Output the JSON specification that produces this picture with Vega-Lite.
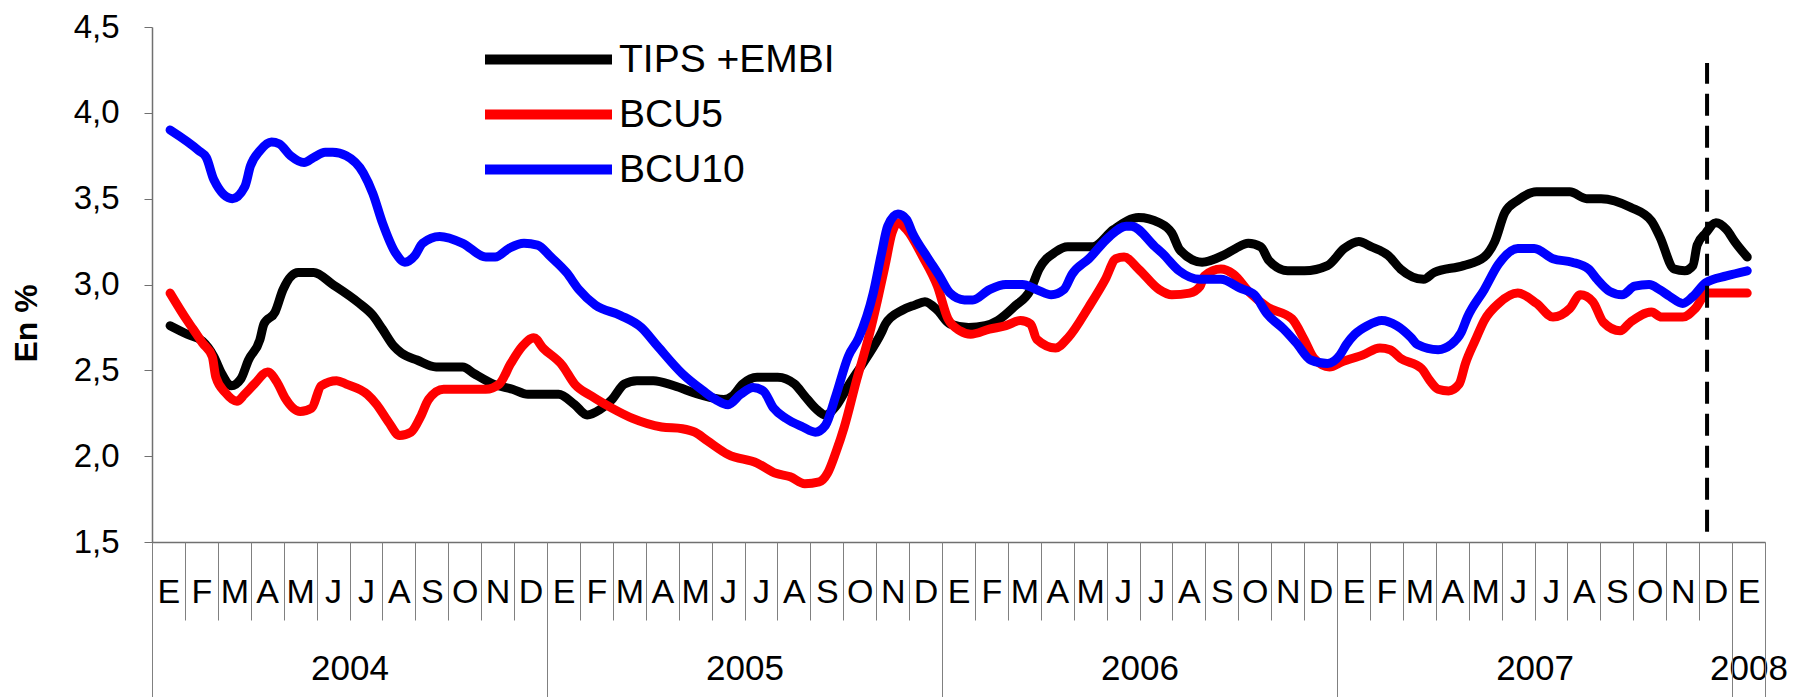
{
"$schema":"https://vega.github.io/schema/vega-lite/v6.json",
"width":1613,"height":515,
"autosize":{"type":"none"},
"padding":{"left":152,"top":27,"right":40,"bottom":155},
"background":"white",
"config":{"view":{"stroke":null},"font":"Liberation Sans","axis":{"labelFont":"Liberation Sans","titleFont":"Liberation Sans","labelColor":"#000000","titleColor":"#000000","grid":false},"legend":{"labelFont":"Liberation Sans"}},
"datasets":{
"marker":[{"m":47.24,"lo":1.56,"hi":4.29}],
"series":[
{"s":"TIPS +EMBI","m":0.55,"v":2.76},{"s":"TIPS +EMBI","m":1.07,"v":2.71},{"s":"TIPS +EMBI","m":1.53,"v":2.67},{"s":"TIPS +EMBI","m":1.88,"v":2.58},{"s":"TIPS +EMBI","m":2.12,"v":2.48},{"s":"TIPS +EMBI","m":2.41,"v":2.41},{"s":"TIPS +EMBI","m":2.7,"v":2.45},{"s":"TIPS +EMBI","m":2.93,"v":2.56},{"s":"TIPS +EMBI","m":3.28,"v":2.68},{"s":"TIPS +EMBI","m":3.4,"v":2.77},{"s":"TIPS +EMBI","m":3.74,"v":2.84},{"s":"TIPS +EMBI","m":3.98,"v":2.97},{"s":"TIPS +EMBI","m":4.44,"v":3.07},{"s":"TIPS +EMBI","m":4.91,"v":3.07},{"s":"TIPS +EMBI","m":5.49,"v":3.0},{"s":"TIPS +EMBI","m":6.3,"v":2.89},{"s":"TIPS +EMBI","m":6.71,"v":2.82},{"s":"TIPS +EMBI","m":7.0,"v":2.74},{"s":"TIPS +EMBI","m":7.35,"v":2.64},{"s":"TIPS +EMBI","m":7.58,"v":2.6},{"s":"TIPS +EMBI","m":8.05,"v":2.56},{"s":"TIPS +EMBI","m":8.63,"v":2.52},{"s":"TIPS +EMBI","m":9.44,"v":2.52},{"s":"TIPS +EMBI","m":9.79,"v":2.48},{"s":"TIPS +EMBI","m":10.37,"v":2.42},{"s":"TIPS +EMBI","m":10.95,"v":2.39},{"s":"TIPS +EMBI","m":11.42,"v":2.36},{"s":"TIPS +EMBI","m":12.35,"v":2.36},{"s":"TIPS +EMBI","m":12.84,"v":2.3},{"s":"TIPS +EMBI","m":13.22,"v":2.24},{"s":"TIPS +EMBI","m":13.6,"v":2.27},{"s":"TIPS +EMBI","m":13.97,"v":2.33},{"s":"TIPS +EMBI","m":14.35,"v":2.42},{"s":"TIPS +EMBI","m":14.73,"v":2.44},{"s":"TIPS +EMBI","m":15.23,"v":2.44},{"s":"TIPS +EMBI","m":15.86,"v":2.41},{"s":"TIPS +EMBI","m":16.62,"v":2.36},{"s":"TIPS +EMBI","m":17.37,"v":2.33},{"s":"TIPS +EMBI","m":17.63,"v":2.35},{"s":"TIPS +EMBI","m":17.94,"v":2.42},{"s":"TIPS +EMBI","m":18.38,"v":2.46},{"s":"TIPS +EMBI","m":19.01,"v":2.46},{"s":"TIPS +EMBI","m":19.52,"v":2.42},{"s":"TIPS +EMBI","m":19.83,"v":2.35},{"s":"TIPS +EMBI","m":20.15,"v":2.28},{"s":"TIPS +EMBI","m":20.46,"v":2.24},{"s":"TIPS +EMBI","m":20.77,"v":2.29},{"s":"TIPS +EMBI","m":21.15,"v":2.41},{"s":"TIPS +EMBI","m":21.66,"v":2.56},{"s":"TIPS +EMBI","m":22.16,"v":2.72},{"s":"TIPS +EMBI","m":22.28,"v":2.77},{"s":"TIPS +EMBI","m":22.79,"v":2.85},{"s":"TIPS +EMBI","m":23.17,"v":2.88},{"s":"TIPS +EMBI","m":23.48,"v":2.9},{"s":"TIPS +EMBI","m":23.86,"v":2.85},{"s":"TIPS +EMBI","m":24.24,"v":2.77},{"s":"TIPS +EMBI","m":24.81,"v":2.75},{"s":"TIPS +EMBI","m":25.31,"v":2.76},{"s":"TIPS +EMBI","m":25.69,"v":2.79},{"s":"TIPS +EMBI","m":26.19,"v":2.87},{"s":"TIPS +EMBI","m":26.69,"v":2.97},{"s":"TIPS +EMBI","m":26.95,"v":3.09},{"s":"TIPS +EMBI","m":27.45,"v":3.19},{"s":"TIPS +EMBI","m":27.82,"v":3.22},{"s":"TIPS +EMBI","m":28.58,"v":3.22},{"s":"TIPS +EMBI","m":29.21,"v":3.32},{"s":"TIPS +EMBI","m":29.97,"v":3.39},{"s":"TIPS +EMBI","m":30.6,"v":3.36},{"s":"TIPS +EMBI","m":30.98,"v":3.3},{"s":"TIPS +EMBI","m":31.23,"v":3.2},{"s":"TIPS +EMBI","m":31.9,"v":3.13},{"s":"TIPS +EMBI","m":32.54,"v":3.17},{"s":"TIPS +EMBI","m":32.92,"v":3.21},{"s":"TIPS +EMBI","m":33.3,"v":3.24},{"s":"TIPS +EMBI","m":33.68,"v":3.22},{"s":"TIPS +EMBI","m":33.93,"v":3.14},{"s":"TIPS +EMBI","m":34.5,"v":3.08},{"s":"TIPS +EMBI","m":35.01,"v":3.08},{"s":"TIPS +EMBI","m":35.71,"v":3.11},{"s":"TIPS +EMBI","m":36.22,"v":3.21},{"s":"TIPS +EMBI","m":36.66,"v":3.25},{"s":"TIPS +EMBI","m":37.04,"v":3.22},{"s":"TIPS +EMBI","m":37.55,"v":3.17},{"s":"TIPS +EMBI","m":37.93,"v":3.09},{"s":"TIPS +EMBI","m":38.63,"v":3.03},{"s":"TIPS +EMBI","m":38.95,"v":3.07},{"s":"TIPS +EMBI","m":39.84,"v":3.11},{"s":"TIPS +EMBI","m":40.47,"v":3.16},{"s":"TIPS +EMBI","m":40.79,"v":3.25},{"s":"TIPS +EMBI","m":41.1,"v":3.42},{"s":"TIPS +EMBI","m":41.49,"v":3.49},{"s":"TIPS +EMBI","m":42.06,"v":3.54},{"s":"TIPS +EMBI","m":43.07,"v":3.54},{"s":"TIPS +EMBI","m":43.58,"v":3.5},{"s":"TIPS +EMBI","m":44.02,"v":3.5},{"s":"TIPS +EMBI","m":44.91,"v":3.45},{"s":"TIPS +EMBI","m":45.55,"v":3.37},{"s":"TIPS +EMBI","m":45.8,"v":3.28},{"s":"TIPS +EMBI","m":46.24,"v":3.09},{"s":"TIPS +EMBI","m":46.56,"v":3.08},{"s":"TIPS +EMBI","m":46.81,"v":3.11},{"s":"TIPS +EMBI","m":46.94,"v":3.23},{"s":"TIPS +EMBI","m":47.2,"v":3.3},{"s":"TIPS +EMBI","m":47.51,"v":3.36},{"s":"TIPS +EMBI","m":47.83,"v":3.32},{"s":"TIPS +EMBI","m":48.08,"v":3.25},{"s":"TIPS +EMBI","m":48.46,"v":3.16},
{"s":"BCU5","m":0.55,"v":2.95},{"s":"BCU5","m":1.07,"v":2.79},{"s":"BCU5","m":1.25,"v":2.74},{"s":"BCU5","m":1.53,"v":2.66},{"s":"BCU5","m":1.83,"v":2.58},{"s":"BCU5","m":1.94,"v":2.46},{"s":"BCU5","m":2.23,"v":2.37},{"s":"BCU5","m":2.58,"v":2.32},{"s":"BCU5","m":2.81,"v":2.36},{"s":"BCU5","m":3.11,"v":2.42},{"s":"BCU5","m":3.51,"v":2.49},{"s":"BCU5","m":3.8,"v":2.43},{"s":"BCU5","m":4.04,"v":2.34},{"s":"BCU5","m":4.5,"v":2.26},{"s":"BCU5","m":4.85,"v":2.28},{"s":"BCU5","m":5.14,"v":2.41},{"s":"BCU5","m":5.61,"v":2.44},{"s":"BCU5","m":5.9,"v":2.42},{"s":"BCU5","m":6.54,"v":2.36},{"s":"BCU5","m":6.83,"v":2.3},{"s":"BCU5","m":7.18,"v":2.2},{"s":"BCU5","m":7.52,"v":2.12},{"s":"BCU5","m":7.87,"v":2.14},{"s":"BCU5","m":8.16,"v":2.23},{"s":"BCU5","m":8.4,"v":2.33},{"s":"BCU5","m":8.86,"v":2.39},{"s":"BCU5","m":10.14,"v":2.39},{"s":"BCU5","m":10.55,"v":2.42},{"s":"BCU5","m":10.9,"v":2.54},{"s":"BCU5","m":11.25,"v":2.64},{"s":"BCU5","m":11.6,"v":2.69},{"s":"BCU5","m":11.88,"v":2.63},{"s":"BCU5","m":12.46,"v":2.53},{"s":"BCU5","m":12.84,"v":2.42},{"s":"BCU5","m":13.35,"v":2.35},{"s":"BCU5","m":13.97,"v":2.28},{"s":"BCU5","m":14.6,"v":2.22},{"s":"BCU5","m":15.48,"v":2.17},{"s":"BCU5","m":16.11,"v":2.16},{"s":"BCU5","m":16.49,"v":2.14},{"s":"BCU5","m":16.87,"v":2.09},{"s":"BCU5","m":17.5,"v":2.01},{"s":"BCU5","m":18.38,"v":1.96},{"s":"BCU5","m":18.95,"v":1.9},{"s":"BCU5","m":19.39,"v":1.88},{"s":"BCU5","m":19.83,"v":1.84},{"s":"BCU5","m":20.27,"v":1.85},{"s":"BCU5","m":20.52,"v":1.9},{"s":"BCU5","m":20.77,"v":2.02},{"s":"BCU5","m":21.03,"v":2.17},{"s":"BCU5","m":21.4,"v":2.44},{"s":"BCU5","m":21.78,"v":2.7},{"s":"BCU5","m":22.04,"v":2.91},{"s":"BCU5","m":22.28,"v":3.12},{"s":"BCU5","m":22.48,"v":3.3},{"s":"BCU5","m":22.66,"v":3.36},{"s":"BCU5","m":22.92,"v":3.32},{"s":"BCU5","m":23.42,"v":3.16},{"s":"BCU5","m":23.86,"v":2.99},{"s":"BCU5","m":24.18,"v":2.8},{"s":"BCU5","m":24.55,"v":2.73},{"s":"BCU5","m":24.87,"v":2.71},{"s":"BCU5","m":25.44,"v":2.74},{"s":"BCU5","m":25.94,"v":2.76},{"s":"BCU5","m":26.38,"v":2.79},{"s":"BCU5","m":26.69,"v":2.77},{"s":"BCU5","m":26.88,"v":2.68},{"s":"BCU5","m":27.45,"v":2.63},{"s":"BCU5","m":27.83,"v":2.69},{"s":"BCU5","m":28.46,"v":2.87},{"s":"BCU5","m":28.96,"v":3.03},{"s":"BCU5","m":29.28,"v":3.15},{"s":"BCU5","m":29.53,"v":3.16},{"s":"BCU5","m":29.97,"v":3.09},{"s":"BCU5","m":30.6,"v":2.97},{"s":"BCU5","m":30.98,"v":2.94},{"s":"BCU5","m":31.52,"v":2.95},{"s":"BCU5","m":31.84,"v":2.99},{"s":"BCU5","m":31.97,"v":3.05},{"s":"BCU5","m":32.47,"v":3.09},{"s":"BCU5","m":32.85,"v":3.06},{"s":"BCU5","m":33.36,"v":2.95},{"s":"BCU5","m":33.87,"v":2.87},{"s":"BCU5","m":34.63,"v":2.8},{"s":"BCU5","m":35.0,"v":2.68},{"s":"BCU5","m":35.3,"v":2.57},{"s":"BCU5","m":35.77,"v":2.52},{"s":"BCU5","m":36.15,"v":2.55},{"s":"BCU5","m":36.79,"v":2.59},{"s":"BCU5","m":37.3,"v":2.63},{"s":"BCU5","m":37.61,"v":2.62},{"s":"BCU5","m":37.93,"v":2.57},{"s":"BCU5","m":38.57,"v":2.51},{"s":"BCU5","m":38.82,"v":2.44},{"s":"BCU5","m":39.07,"v":2.39},{"s":"BCU5","m":39.39,"v":2.38},{"s":"BCU5","m":39.71,"v":2.42},{"s":"BCU5","m":39.9,"v":2.54},{"s":"BCU5","m":40.21,"v":2.68},{"s":"BCU5","m":40.47,"v":2.79},{"s":"BCU5","m":40.91,"v":2.89},{"s":"BCU5","m":41.49,"v":2.95},{"s":"BCU5","m":42.06,"v":2.89},{"s":"BCU5","m":42.56,"v":2.81},{"s":"BCU5","m":43.07,"v":2.86},{"s":"BCU5","m":43.39,"v":2.94},{"s":"BCU5","m":43.77,"v":2.9},{"s":"BCU5","m":44.09,"v":2.78},{"s":"BCU5","m":44.6,"v":2.73},{"s":"BCU5","m":44.91,"v":2.78},{"s":"BCU5","m":45.55,"v":2.84},{"s":"BCU5","m":45.86,"v":2.81},{"s":"BCU5","m":46.5,"v":2.81},{"s":"BCU5","m":46.88,"v":2.86},{"s":"BCU5","m":47.24,"v":2.95},{"s":"BCU5","m":47.83,"v":2.95},{"s":"BCU5","m":48.46,"v":2.95},
{"s":"BCU10","m":0.55,"v":3.9},{"s":"BCU10","m":1.42,"v":3.78},{"s":"BCU10","m":1.65,"v":3.74},{"s":"BCU10","m":1.88,"v":3.61},{"s":"BCU10","m":2.44,"v":3.5},{"s":"BCU10","m":2.82,"v":3.57},{"s":"BCU10","m":2.99,"v":3.69},{"s":"BCU10","m":3.28,"v":3.78},{"s":"BCU10","m":3.63,"v":3.83},{"s":"BCU10","m":3.86,"v":3.82},{"s":"BCU10","m":4.21,"v":3.75},{"s":"BCU10","m":4.62,"v":3.71},{"s":"BCU10","m":4.91,"v":3.74},{"s":"BCU10","m":5.26,"v":3.77},{"s":"BCU10","m":5.49,"v":3.77},{"s":"BCU10","m":5.9,"v":3.75},{"s":"BCU10","m":6.42,"v":3.65},{"s":"BCU10","m":6.71,"v":3.53},{"s":"BCU10","m":7.0,"v":3.36},{"s":"BCU10","m":7.41,"v":3.18},{"s":"BCU10","m":7.68,"v":3.13},{"s":"BCU10","m":7.99,"v":3.17},{"s":"BCU10","m":8.22,"v":3.24},{"s":"BCU10","m":8.74,"v":3.28},{"s":"BCU10","m":9.44,"v":3.24},{"s":"BCU10","m":10.14,"v":3.16},{"s":"BCU10","m":10.43,"v":3.16},{"s":"BCU10","m":10.84,"v":3.21},{"s":"BCU10","m":11.3,"v":3.24},{"s":"BCU10","m":11.71,"v":3.23},{"s":"BCU10","m":12.12,"v":3.16},{"s":"BCU10","m":12.59,"v":3.07},{"s":"BCU10","m":12.97,"v":2.97},{"s":"BCU10","m":13.47,"v":2.88},{"s":"BCU10","m":14.23,"v":2.82},{"s":"BCU10","m":14.86,"v":2.75},{"s":"BCU10","m":15.36,"v":2.64},{"s":"BCU10","m":16.11,"v":2.48},{"s":"BCU10","m":16.75,"v":2.38},{"s":"BCU10","m":17.12,"v":2.33},{"s":"BCU10","m":17.5,"v":2.3},{"s":"BCU10","m":17.88,"v":2.36},{"s":"BCU10","m":18.26,"v":2.4},{"s":"BCU10","m":18.57,"v":2.38},{"s":"BCU10","m":18.88,"v":2.28},{"s":"BCU10","m":19.26,"v":2.22},{"s":"BCU10","m":19.77,"v":2.17},{"s":"BCU10","m":20.15,"v":2.14},{"s":"BCU10","m":20.46,"v":2.18},{"s":"BCU10","m":20.77,"v":2.35},{"s":"BCU10","m":21.15,"v":2.58},{"s":"BCU10","m":21.47,"v":2.69},{"s":"BCU10","m":21.91,"v":2.95},{"s":"BCU10","m":22.16,"v":3.18},{"s":"BCU10","m":22.35,"v":3.34},{"s":"BCU10","m":22.66,"v":3.41},{"s":"BCU10","m":22.92,"v":3.38},{"s":"BCU10","m":23.1,"v":3.3},{"s":"BCU10","m":23.55,"v":3.16},{"s":"BCU10","m":23.92,"v":3.05},{"s":"BCU10","m":24.24,"v":2.95},{"s":"BCU10","m":24.68,"v":2.91},{"s":"BCU10","m":24.93,"v":2.91},{"s":"BCU10","m":25.44,"v":2.97},{"s":"BCU10","m":25.94,"v":3.0},{"s":"BCU10","m":26.44,"v":3.0},{"s":"BCU10","m":26.88,"v":2.97},{"s":"BCU10","m":27.32,"v":2.94},{"s":"BCU10","m":27.7,"v":2.97},{"s":"BCU10","m":27.95,"v":3.06},{"s":"BCU10","m":28.46,"v":3.15},{"s":"BCU10","m":29.09,"v":3.28},{"s":"BCU10","m":29.59,"v":3.34},{"s":"BCU10","m":29.75,"v":3.34},{"s":"BCU10","m":30.47,"v":3.22},{"s":"BCU10","m":30.7,"v":3.18},{"s":"BCU10","m":31.2,"v":3.08},{"s":"BCU10","m":31.84,"v":3.03},{"s":"BCU10","m":32.47,"v":3.03},{"s":"BCU10","m":33.04,"v":2.98},{"s":"BCU10","m":33.49,"v":2.94},{"s":"BCU10","m":33.87,"v":2.83},{"s":"BCU10","m":34.38,"v":2.74},{"s":"BCU10","m":34.76,"v":2.66},{"s":"BCU10","m":35.2,"v":2.56},{"s":"BCU10","m":35.71,"v":2.54},{"s":"BCU10","m":36.09,"v":2.59},{"s":"BCU10","m":36.28,"v":2.65},{"s":"BCU10","m":36.54,"v":2.71},{"s":"BCU10","m":36.92,"v":2.76},{"s":"BCU10","m":37.36,"v":2.79},{"s":"BCU10","m":37.81,"v":2.76},{"s":"BCU10","m":38.25,"v":2.69},{"s":"BCU10","m":38.44,"v":2.65},{"s":"BCU10","m":39.07,"v":2.62},{"s":"BCU10","m":39.46,"v":2.65},{"s":"BCU10","m":39.77,"v":2.72},{"s":"BCU10","m":39.96,"v":2.81},{"s":"BCU10","m":40.47,"v":2.97},{"s":"BCU10","m":40.91,"v":3.12},{"s":"BCU10","m":41.49,"v":3.21},{"s":"BCU10","m":41.99,"v":3.21},{"s":"BCU10","m":42.56,"v":3.15},{"s":"BCU10","m":43.14,"v":3.13},{"s":"BCU10","m":43.64,"v":3.09},{"s":"BCU10","m":43.9,"v":3.03},{"s":"BCU10","m":44.28,"v":2.96},{"s":"BCU10","m":44.66,"v":2.94},{"s":"BCU10","m":45.04,"v":2.99},{"s":"BCU10","m":45.48,"v":3.0},{"s":"BCU10","m":45.8,"v":2.97},{"s":"BCU10","m":46.11,"v":2.93},{"s":"BCU10","m":46.5,"v":2.89},{"s":"BCU10","m":46.81,"v":2.93},{"s":"BCU10","m":47.2,"v":3.01},{"s":"BCU10","m":47.83,"v":3.05},{"s":"BCU10","m":48.46,"v":3.08}
]},
"resolve":{"axis":{"x":"independent","y":"independent"}},
"layer":[
{"data":{"name":"series"},
 "mark":{"type":"line","strokeWidth":9,"interpolate":"monotone","strokeCap":"round","strokeJoin":"round"},
 "encoding":{
  "x":{"field":"m","type":"quantitative","scale":{"domain":[0,49],"nice":false,"zero":false},
   "axis":{"orient":"bottom","title":null,"values":[0.5,1.5,2.5,3.5,4.5,5.5,6.5,7.5,8.5,9.5,10.5,11.5,12.5,13.5,14.5,15.5,16.5,17.5,18.5,19.5,20.5,21.5,22.5,23.5,24.5,25.5,26.5,27.5,28.5,29.5,30.5,31.5,32.5,33.5,34.5,35.5,36.5,37.5,38.5,39.5,40.5,41.5,42.5,43.5,44.5,45.5,46.5,47.5,48.5],
    "labelExpr":"['E','F','M','A','M','J','J','A','S','O','N','D'][floor(datum.value) % 12]",
    "ticks":false,"domain":true,"domainColor":"#707070","domainWidth":1.5,"labelFontSize":34,"labelPadding":60,"labelBaseline":"alphabetic","labelOverlap":false,"labelFlush":false,"labelBound":false}},
  "y":{"field":"v","type":"quantitative","scale":{"domain":[1.5,4.5],"nice":false,"zero":false},
   "axis":{"values":[1.5,2,2.5,3,3.5,4,4.5],"labelExpr":"replace(format(datum.value,'.1f'),'.',',')","tickSize":8,"tickColor":"#707070","domainColor":"#707070","domainWidth":1.5,"labelFontSize":33,"labelPadding":25,"labelOverlap":false,"labelFlush":false,
    "title":"En %","titleFontSize":32,"titleFontWeight":"bold","titleAngle":-90,"titleAlign":"center","titleBaseline":"middle","titleX":-126,"titleY":296}},
  "color":{"field":"s","type":"nominal","scale":{"domain":["TIPS +EMBI","BCU5","BCU10"],"range":["#000000","#ff0000","#0000ff"]},
   "legend":{"orient":"none","legendX":328,"legendY":5,"title":null,"padding":0,"symbolType":"stroke","symbolSize":16129,"symbolStrokeWidth":10,"labelFontSize":39,"labelLimit":500,"labelColor":"#000000","clipHeight":55,"rowPadding":0,"labelOffset":2}}
 }},
{"data":{"name":"marker"},
 "mark":{"type":"rule","strokeDash":[22,10],"strokeWidth":4,"color":"#000000"},
 "encoding":{
  "x":{"field":"m","type":"quantitative","scale":{"domain":[0,49],"nice":false,"zero":false},
   "axis":{"orient":"bottom","title":null,"values":[0,1,2,3,4,5,6,7,8,9,10,11,12,13,14,15,16,17,18,19,20,21,22,23,24,25,26,27,28,29,30,31,32,33,34,35,36,37,38,39,40,41,42,43,44,45,46,47,48,49],"labels":false,"domain":false,"ticks":true,"tickSize":78,"tickColor":"#808080","tickWidth":1}},
  "y":{"field":"lo","type":"quantitative","axis":null},
  "y2":{"field":"hi"}
 }},
{"data":{"name":"marker"},
 "mark":{"type":"rule","opacity":0},
 "encoding":{
  "x":{"field":"m","type":"quantitative","scale":{"domain":[0,49],"nice":false,"zero":false},
   "axis":{"orient":"bottom","title":null,"values":[6,18,30,42,48.5],"labelExpr":"datum.value < 12 ? '2004' : datum.value < 24 ? '2005' : datum.value < 36 ? '2006' : datum.value < 48 ? '2007' : '2008'","ticks":false,"domain":false,"labelFontSize":35,"labelPadding":137,"labelBaseline":"alphabetic","labelOverlap":false,"labelFlush":false,"labelBound":false}},
  "y":{"field":"lo","type":"quantitative","axis":null},
  "y2":{"field":"hi"}
 }},
{"data":{"name":"marker"},
 "mark":{"type":"rule","opacity":0},
 "encoding":{
  "x":{"field":"m","type":"quantitative","scale":{"domain":[0,49],"nice":false,"zero":false},
   "axis":{"orient":"bottom","title":null,"values":[0,12,24,36,48,49],"labels":false,"domain":false,"ticks":true,"tickSize":155,"tickColor":"#808080","tickWidth":1}},
  "y":{"field":"lo","type":"quantitative","axis":null},
  "y2":{"field":"hi"}
 }}
]
}
